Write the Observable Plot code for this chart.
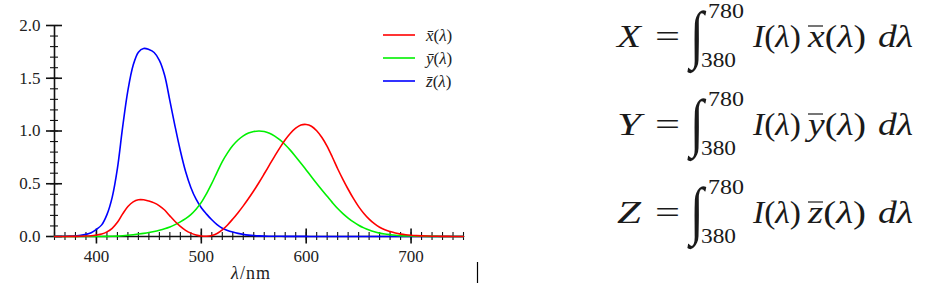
<!DOCTYPE html>
<html><head><meta charset="utf-8">
<script src="https://cdn.jsdelivr.net/npm/d3@7"></script>
<script src="https://cdn.jsdelivr.net/npm/@observablehq/plot@0.6"></script>
<style>
html,body{margin:0;padding:0;background:#fff;}
#wrap{position:relative;width:928px;height:284px;overflow:hidden;background:#fff;}
#chart{position:absolute;left:0;top:0;}
#overlay{position:absolute;left:0;top:0;pointer-events:none;}
</style></head><body>
<div id="wrap"><div id="chart"></div><svg id="overlay" width="928" height="284"></svg></div>
<script>
// CIE 1931 colour-matching functions (values as plotted)
const wavelength = [360,365,370,375,380,385,390,395,400,405,410,415,420,425,430,435,440,445,450,455,460,465,470,475,480,485,490,495,500,505,510,515,520,525,530,535,540,545,550,555,560,565,570,575,580,585,590,595,600,605,610,615,620,625,630,635,640,645,650,655,660,665,670,675,680,685,690,695,700,705,710,715,720,725,730,735,740,745,750];
const xBar = [0.00013,0.00023,0.00041,0.00074,0.001368,0.002236,0.004243,0.00765,0.01431,0.02319,0.04351,0.07763,0.13438,0.21477,0.2839,0.3285,0.34828,0.34806,0.3362,0.3187,0.2908,0.2511,0.19536,0.1421,0.09564,0.05795,0.03201,0.0147,0.0049,0.0024,0.0093,0.0291,0.06327,0.1096,0.1655,0.22575,0.2904,0.3597,0.43345,0.51205,0.5945,0.6784,0.7621,0.8425,0.9163,0.9786,1.0263,1.0567,1.0622,1.0456,1.0026,0.9384,0.85445,0.7514,0.6424,0.5419,0.4479,0.3608,0.2835,0.2187,0.1649,0.1212,0.0874,0.0636,0.04677,0.0329,0.0227,0.01584,0.011359,0.008111,0.00579,0.004109,0.002899,0.002049,0.00144,0.001,0.00069,0.000476,0.000332];
const yBar = [0.000004,0.000007,0.000012,0.000022,0.000039,0.000064,0.00012,0.000217,0.000396,0.00064,0.00121,0.00218,0.004,0.0073,0.0116,0.01684,0.023,0.0298,0.038,0.048,0.06,0.0739,0.09098,0.1126,0.13902,0.1693,0.20802,0.2586,0.323,0.4073,0.503,0.6082,0.71,0.7932,0.862,0.91485,0.954,0.9803,0.99495,1.0,0.995,0.9786,0.952,0.9154,0.87,0.8163,0.757,0.6949,0.631,0.5668,0.503,0.4412,0.381,0.321,0.265,0.217,0.175,0.1382,0.107,0.0816,0.061,0.04458,0.032,0.0232,0.017,0.01192,0.00821,0.005723,0.004102,0.002929,0.002091,0.001484,0.001047,0.00074,0.00052,0.000361,0.000249,0.000172,0.00012];
const zBar = [0.000606,0.001086,0.001946,0.003486,0.00645,0.01055,0.02005,0.03621,0.06785,0.1102,0.2074,0.3713,0.6456,1.03905,1.3856,1.62296,1.74706,1.7826,1.77211,1.7441,1.6692,1.5281,1.28764,1.0419,0.81295,0.6162,0.46518,0.3533,0.272,0.2123,0.1582,0.1117,0.07825,0.05725,0.04216,0.02984,0.0203,0.0134,0.00875,0.00575,0.0039,0.00275,0.0021,0.0018,0.00165,0.0014,0.0011,0.001,0.0008,0.0006,0.00034,0.00024,0.00019,0.0001,0.00005,0.00003,0.00002,0.00001,0,0,0,0,0,0,0,0,0,0,0,0,0,0,0,0,0,0,0,0,0];

const seriesKeys = ["x", "y", "z"];
const seriesColors = ["#ff0000", "#00f000", "#0000ff"];
const xMajorTicks = [400, 500, 600, 700];
const yMajorTicks = [0, 0.5, 1.0, 1.5, 2.0];
const xTickLabels = ["400", "500", "600", "700"];
const yTickLabels = ["0.0", "0.5", "1.0", "1.5", "2.0"];
const xDomain = [360, 750];
const yDomain = [0, 2];
const xAxisLabel = "λ/nm";
const eqLetters = ["X", "Y", "Z"];
const lowerLimit = "380";
const upperLimit = "780";

const seriesValues = [xBar, yBar, zBar];
const rows = seriesKeys.map((k, s) => wavelength.map((w, i) => ({lambda: w, value: seriesValues[s][i], series: k})));

const xMinorTicks = d3.range(xDomain[0], xDomain[1] + 1, 10);
const yMinorTicks = d3.range(0, 21).map(d => d / 10);

const W = 480, H = 284, mL = 54, mR = 17, mT = 25, mB = 48;
const pw = W - mL - mR, ph = H - mT - mB;

const lineMark = s => Plot.line(rows[s], {x: "lambda", y: "value", stroke: seriesColors[s], strokeWidth: 1.6, curve: "catmull-rom"});

const plot = Plot.plot({
  width: W, height: H,
  marginLeft: mL, marginRight: mR, marginTop: mT, marginBottom: mB,
  x: {domain: xDomain},
  y: {domain: yDomain},
  style: {fontFamily: "Liberation Serif", fontSize: "17px", color: "#222", background: "transparent"},
  marks: [
    Plot.ruleY([0], {stroke: "#111", strokeWidth: 1.6}),
    Plot.ruleX([xDomain[0]], {stroke: "#111", strokeWidth: 1.6}),
    Plot.ruleX(xMinorTicks, {x: d => d, stroke: "#111", strokeWidth: 1.1, insetTop: ph - 4, insetBottom: -4}),
    Plot.ruleX(xMajorTicks, {x: d => d, stroke: "#111", strokeWidth: 1.6, insetTop: ph - 7.5, insetBottom: -7.5}),
    Plot.ruleY(yMinorTicks, {y: d => d, stroke: "#111", strokeWidth: 1.1, insetLeft: -4, insetRight: pw - 4}),
    Plot.ruleY(yMajorTicks, {y: d => d, stroke: "#111", strokeWidth: 1.6, insetLeft: -8, insetRight: pw - 8}),
    lineMark(2), lineMark(1), lineMark(0),
    Plot.axisY({ticks: yMajorTicks, tickSize: 0, tickPadding: 14, tickFormat: d => yTickLabels[yMajorTicks.indexOf(d)], label: null}),
    Plot.axisX({ticks: xMajorTicks, tickSize: 0, tickPadding: 13, tickFormat: d => xTickLabels[xMajorTicks.indexOf(d)], label: xAxisLabel, labelAnchor: "center", labelOffset: 42, labelArrow: "none"})
  ]
});
document.getElementById("chart").appendChild(plot);

// italic lambda in x-axis label
d3.select(plot).selectAll('[aria-label="x-axis label"] text').each(function() {
  const t = d3.select(this);
  t.text(null);
  t.append("tspan").attr("font-style", "italic").text("λ");
  t.append("tspan").text("/nm");
  t.attr("letter-spacing", "1px").attr("font-size", "18px").attr("dx", -8);
});

const ov = d3.select("#overlay");
const serif = "Liberation Serif";

// legend
const legendY = [35, 58, 81];
seriesKeys.forEach((k, i) => {
  ov.append("line").attr("x1", 383).attr("x2", 415).attr("y1", legendY[i]).attr("y2", legendY[i])
    .attr("stroke", seriesColors[i]).attr("stroke-width", 1.6);
  const t = ov.append("text").attr("x", 426).attr("y", legendY[i] + 5.5).attr("font-family", serif)
    .attr("font-size", 17).attr("fill", "#222");
  t.append("tspan").attr("font-style", "italic").text(k + "\u0304");
  t.append("tspan").text("(");
  t.append("tspan").attr("font-style", "italic").text("λ");
  t.append("tspan").text(")");
});

// caret mark at bottom
ov.append("line").attr("x1", 477.5).attr("x2", 477.5).attr("y1", 262).attr("y2", 283).attr("stroke", "#000").attr("stroke-width", 1.2);

// equations
const eqBase = [47, 135, 223];
eqLetters.forEach((L, i) => {
  const b = eqBase[i];
  const g = ov.append("g").attr("font-family", serif).attr("fill", "#1a1a1a");
  g.append("text").attr("x", 617).attr("y", b).attr("font-size", 32).attr("font-style", "italic")
    .attr("textLength", 24).attr("lengthAdjust", "spacingAndGlyphs").text(L);
  g.append("text").attr("x", 655).attr("y", b).attr("font-size", 32)
    .attr("textLength", 25).attr("lengthAdjust", "spacingAndGlyphs").text("=");
  g.append("text").attr("transform", `translate(690,${b + 9}) scale(1.25,1.6)`).attr("font-size", 40)
    .attr("font-style", "italic").text("∫");
  g.append("text").attr("x", 708).attr("y", b - 29).attr("font-size", 20)
    .attr("textLength", 36).attr("lengthAdjust", "spacingAndGlyphs").text(upperLimit);
  g.append("text").attr("x", 701).attr("y", b + 20).attr("font-size", 21)
    .attr("textLength", 35).attr("lengthAdjust", "spacingAndGlyphs").text(lowerLimit);
  const t1 = g.append("text").attr("x", 753).attr("y", b).attr("font-size", 31)
    .attr("textLength", 48).attr("lengthAdjust", "spacingAndGlyphs");
  t1.append("tspan").attr("font-style", "italic").text("I");
  t1.append("tspan").text("(");
  t1.append("tspan").attr("font-style", "italic").text("λ");
  t1.append("tspan").text(")");
  const t2 = g.append("text").attr("x", 808).attr("y", b).attr("font-size", 31)
    .attr("textLength", 58).attr("lengthAdjust", "spacingAndGlyphs");
  t2.append("tspan").attr("font-style", "italic").text(seriesKeys[i]);
  t2.append("tspan").text("(");
  t2.append("tspan").attr("font-style", "italic").text("λ");
  t2.append("tspan").text(")");
  g.append("line").attr("x1", 808).attr("x2", 823).attr("y1", b - 21).attr("y2", b - 21)
    .attr("stroke", "#1a1a1a").attr("stroke-width", 1.2);
  g.append("text").attr("x", 878).attr("y", b).attr("font-size", 31).attr("font-style", "italic")
    .attr("textLength", 35).attr("lengthAdjust", "spacingAndGlyphs").text("dλ");
});
</script>
</body></html>
